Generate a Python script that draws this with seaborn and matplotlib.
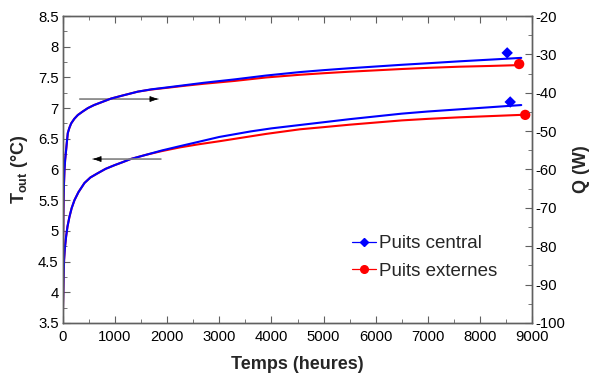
import numpy as np
import pandas as pd
import matplotlib.pyplot as plt
from matplotlib.lines import Line2D
from matplotlib.ticker import MultipleLocator
import seaborn as sns

# courbes Q (axe de droite)
t_q_central = [0, 2, 5, 10, 15, 22, 32, 45, 64, 80, 96, 125, 160, 220, 288, 380, 480, 600, 735, 927,
               1150, 1439, 1700, 2000, 2350, 2700, 3300, 3900, 4548, 5000, 5500, 6000, 6500, 7000,
               7600, 8200, 8790]
q_central = [-100, -90, -80, -72, -68, -64, -60.2, -57.5, -54.9, -52.6, -50.5, -49.2, -48.0, -46.8,
             -45.8, -44.9, -44.0, -43.2, -42.5, -41.5, -40.7, -39.7, -39.1, -38.6, -38.0, -37.4,
             -36.5, -35.5, -34.6, -34.1, -33.6, -33.15, -32.7, -32.3, -31.8, -31.35, -30.9]
t_q_externes = [0, 2, 5, 10, 15, 22, 32, 45, 64, 80, 96, 125, 160, 220, 288, 380, 480, 600, 735, 927,
                1150, 1439, 1700, 2000, 2350, 2700, 3300, 3900, 4548, 5000, 5500, 6000, 6500, 7000,
                7600, 8200, 8700]
q_externes = [-100, -90, -80, -72, -68, -64, -60.2, -57.5, -54.9, -52.6, -50.5, -49.2, -48.0, -46.8,
              -45.8, -44.9, -44.0, -43.2, -42.5, -41.5, -40.7, -39.7, -39.15, -38.7, -38.15, -37.65,
              -36.9, -36.0, -35.3, -34.9, -34.5, -34.15, -33.8, -33.5, -33.2, -33.0, -32.8]

# courbes Tout (axe de gauche)
t_T_central = [0, 5, 10, 17, 25, 40, 64, 90, 128, 170, 224, 300, 416, 530, 672, 820, 992, 1150, 1300,
               1600, 1900, 2245, 2600, 3000, 3600, 4000, 4548, 5000, 5500, 6000, 6500, 7000, 7600,
               8200, 8790]
T_central = [3.5, 3.8, 4.0, 4.3, 4.53, 4.72, 4.91, 5.07, 5.23, 5.37, 5.50, 5.63, 5.78, 5.87, 5.94,
             6.01, 6.07, 6.12, 6.17, 6.24, 6.31, 6.38, 6.45, 6.53, 6.62, 6.67, 6.725, 6.77, 6.82,
             6.865, 6.91, 6.945, 6.98, 7.015, 7.05]
t_T_externes = [0, 5, 10, 17, 25, 40, 64, 90, 128, 170, 224, 300, 416, 530, 672, 820, 992, 1150, 1300,
                1600, 1900, 2245, 2600, 3000, 3300, 3900, 4548, 5000, 5500, 6000, 6500, 7000, 7600,
                8200, 8790]
T_externes = [3.5, 3.8, 4.0, 4.3, 4.53, 4.72, 4.91, 5.07, 5.23, 5.37, 5.50, 5.63, 5.78, 5.87, 5.94,
              6.01, 6.07, 6.12, 6.17, 6.24, 6.30, 6.36, 6.41, 6.46, 6.50, 6.58, 6.655, 6.69, 6.73,
              6.765, 6.80, 6.825, 6.85, 6.87, 6.89]

# points isoles
pt_t_q = [8520, 8750]
pt_q = [-29.6, -32.5]
pt_t_T = [8578, 8866]
pt_T = [7.10, 6.89]
puits = ['Puits central', 'Puits externes']

couleurs = {'Puits central': '#0000ff', 'Puits externes': '#ff0000'}
marqueurs = {'Puits central': 'D', 'Puits externes': 'o'}

df_q = pd.concat([
    pd.DataFrame({'t': t_q_central, 'v': q_central, 'puits': puits[0]}),
    pd.DataFrame({'t': t_q_externes, 'v': q_externes, 'puits': puits[1]}),
])
df_T = pd.concat([
    pd.DataFrame({'t': t_T_central, 'v': T_central, 'puits': puits[0]}),
    pd.DataFrame({'t': t_T_externes, 'v': T_externes, 'puits': puits[1]}),
])

sns.set_style('ticks')
plt.rcParams['font.family'] = ['Liberation Sans', 'DejaVu Sans']
plt.rcParams['axes.unicode_minus'] = False
plt.rcParams['mathtext.fontset'] = 'custom'
plt.rcParams['mathtext.rm'] = 'Liberation Sans'
plt.rcParams['mathtext.bf'] = 'Liberation Sans:bold'

fig = plt.figure(figsize=(5.98, 3.83), dpi=100)
ax = fig.add_axes([0.105, 0.157, 0.785, 0.801])
ax2 = ax.twinx()

sns.lineplot(data=df_T, x='t', y='v', hue='puits', palette=couleurs, hue_order=puits[::-1],
             lw=1.5, legend=False, estimator=None, sort=False, ax=ax)
sns.lineplot(data=df_q, x='t', y='v', hue='puits', palette=couleurs, hue_order=puits[::-1],
             lw=1.5, legend=False, estimator=None, sort=False, ax=ax2)

for i, p in enumerate(puits):
    ms = 34 if p == puits[0] else 55
    sns.scatterplot(x=[pt_t_q[i]], y=[pt_q[i]], color=couleurs[p], marker=marqueurs[p],
                    s=ms, edgecolor='none', ax=ax2, zorder=5)
    sns.scatterplot(x=[pt_t_T[i]], y=[pt_T[i]], color=couleurs[p], marker=marqueurs[p],
                    s=ms, edgecolor='none', ax=ax, zorder=5)

ax.set_xlim(0, 9000)
ax.set_ylim(3.5, 8.5)
ax2.set_ylim(-100, -20)
ax.xaxis.set_major_locator(MultipleLocator(1000))
ax.xaxis.set_minor_locator(MultipleLocator(500))
ax.yaxis.set_major_locator(MultipleLocator(0.5))
ax.yaxis.set_minor_locator(MultipleLocator(0.25))
ax2.yaxis.set_major_locator(MultipleLocator(10))
ax2.yaxis.set_minor_locator(MultipleLocator(5))
ax.yaxis.set_major_formatter(plt.FuncFormatter(lambda v, _: f'{v:g}'))

spine_col = '#606060'
for a in (ax, ax2):
    for s in a.spines.values():
        s.set_visible(True)
        s.set_color(spine_col)
        s.set_linewidth(1.0)
ax.tick_params(axis='x', which='both', direction='in', top=True, bottom=True,
               colors=spine_col, labelcolor='black', labelsize=10.7, pad=5)
ax.tick_params(axis='y', which='both', direction='in', left=True, right=False,
               colors=spine_col, labelcolor='black', labelsize=10.7, pad=3)
ax2.tick_params(axis='y', which='both', direction='in', right=True, left=False,
                colors=spine_col, labelcolor='black', labelsize=10.7, pad=2)
for a in (ax, ax2):
    a.tick_params(which='major', length=5)
    a.tick_params(which='minor', length=3)

ax.set_xlabel('Temps (heures)', fontsize=13, fontweight='bold', labelpad=9)
ax.set_ylabel(r'T$_{\mathbf{out}}$ (°C)', fontsize=13, fontweight='bold', labelpad=6)
ax2.set_ylabel('Q (W)', fontsize=13, fontweight='bold', labelpad=6)

# fleches
fleches = [((326, 7.148), (1823, 7.148)), ((1881, 6.17), (582, 6.17))]
for debut, fin in fleches:
    ax.annotate('', xy=fin, xytext=debut,
                arrowprops=dict(arrowstyle='-', color='#808080', lw=1.2, shrinkA=0, shrinkB=0))
    sens = 1 if fin[0] > debut[0] else -1
    ax.annotate('', xy=fin, xytext=(fin[0] - sens * 150, fin[1]),
                arrowprops=dict(arrowstyle='-|>,head_length=0.5,head_width=0.18', color='black',
                                lw=0.5, shrinkA=0, shrinkB=0))

handles = [Line2D([], [], color=couleurs[p], lw=0.9, marker=marqueurs[p],
                  markersize=5.5 if p == puits[1] else 4.5) for p in puits]
ax2.legend(handles, puits, loc='upper left', bbox_to_anchor=(0.6, 0.31), frameon=False,
           fontsize=13.5, handlelength=1.3, handletextpad=0.15, labelspacing=0.55,
           borderaxespad=0)

fig.savefig('out.png', dpi=100)
